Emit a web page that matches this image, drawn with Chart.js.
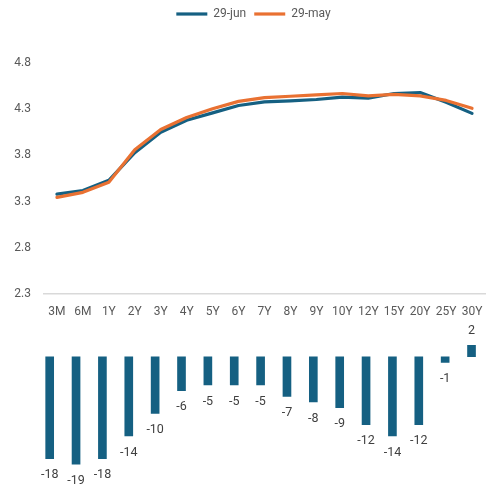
<!DOCTYPE html>
<html>
<head>
<meta charset="utf-8">
<script src="https://cdn.jsdelivr.net/npm/chart.js@4"></script>
<style>
  html, body { margin: 0; padding: 0; background: #ffffff; }
  #wrap { position: relative; width: 487px; height: 484px; overflow: hidden; }
  #curve { position: absolute; left: 0; top: 0; }
  #delta { position: absolute; left: 0; top: 320px; }
</style>
</head>
<body>
<div id="wrap">
  <canvas id="curve" width="487" height="320"></canvas>
  <canvas id="delta" width="487" height="164"></canvas>
</div>
<script>
// Swap curve tenors
const tenors = ['3M', '6M', '1Y', '2Y', '3Y', '4Y', '5Y', '6Y', '7Y', '8Y', '9Y', '10Y', '12Y', '15Y', '20Y', '25Y', '30Y'];

// Rates (%) on each date
const june29 = [3.38, 3.42, 3.53, 3.83, 4.05, 4.18, 4.26, 4.34, 4.38, 4.39, 4.405, 4.43, 4.42, 4.47, 4.48, 4.375, 4.255];
const may29  = [3.345, 3.40, 3.51, 3.86, 4.08, 4.21, 4.305, 4.385, 4.425, 4.44, 4.455, 4.47, 4.445, 4.46, 4.445, 4.395, 4.31];

// Change over the period (bp)
const changeBp = [-18, -19, -18, -14, -10, -6, -5, -5, -5, -7, -8, -9, -12, -14, -12, -1, 2];

// Rate axis tick labels
const rateTicks = [2.3, 2.8, 3.3, 3.8, 4.3, 4.8];

const FONT = 'Roboto, "Liberation Sans", Arial, sans-serif';
const BLUE = '#156082';
const ORANGE = '#E97132';
const TEXT = '#595959';

Chart.defaults.font.family = FONT;
Chart.defaults.font.size = 12;
Chart.defaults.color = TEXT;

// Reserve a fixed band for the legend above the plot area and nudge it sideways
const legendBand = {
  id: 'legendBand',
  beforeLayout(chart, args, opts) {
    const legend = chart.legend;
    if (legend && !legend._bandPatched) {
      const fit = legend.fit;
      legend.fit = function () {
        fit.call(this);
        this.height = opts.height;
      };
      legend._bandPatched = true;
    }
  },
  afterLayout(chart, args, opts) {
    const legend = chart.legend;
    if (legend) {
      legend.left += opts.shift;
      legend.right += opts.shift;
    }
  }
};

new Chart(document.getElementById('curve'), {
  type: 'line',
  data: {
    labels: tenors,
    datasets: [
      { label: '29-jun', data: june29, borderColor: BLUE, backgroundColor: BLUE,
        borderWidth: 3.2, pointRadius: 0, borderCapStyle: 'round', borderJoinStyle: 'round', order: 1 },
      { label: '29-may', data: may29, borderColor: ORANGE, backgroundColor: ORANGE,
        borderWidth: 3.2, pointRadius: 0, borderCapStyle: 'round', borderJoinStyle: 'round', order: 0 }
    ]
  },
  options: {
    responsive: false,
    animation: false,
    events: [],
    layout: { padding: { left: 0, right: 2, top: 0, bottom: 0 } },
    plugins: {
      tooltip: { enabled: false },
      legendBand: { height: 63, shift: 11 },
      legend: {
        position: 'top',
        labels: {
          usePointStyle: true,
          pointStyle: 'line',
          pointStyleWidth: 31,
          padding: 8,
          color: TEXT,
          font: { size: 12 },
          sort: (a, b) => a.datasetIndex - b.datasetIndex
        }
      }
    },
    scales: {
      x: {
        offset: true,
        grid: { display: false, drawTicks: false },
        border: { display: true, color: '#d9d9d9', width: 1.5 },
        ticks: { padding: 11, maxRotation: 0, autoSkip: false, color: TEXT },
        afterFit(scale) {
          scale.height = 26;
          scale.paddingLeft = 0;
          scale.paddingRight = 0;
        }
      },
      y: {
        min: 2.3,
        max: 4.8,
        grid: { display: false, drawTicks: false },
        border: { display: false },
        ticks: { padding: 13, color: TEXT, callback: v => Number(v).toFixed(1) },
        afterBuildTicks(scale) {
          scale.ticks = rateTicks.map(v => ({ value: v }));
        },
        afterFit(scale) {
          scale.width = 44;
          scale.paddingTop = 0;
          scale.paddingBottom = 0;
        }
      }
    }
  },
  plugins: [legendBand]
});

// Value labels at the outer end of each bar
const barValueLabels = {
  id: 'barValueLabels',
  afterDatasetsDraw(chart) {
    const ctx = chart.ctx;
    const meta = chart.getDatasetMeta(0);
    const values = chart.data.datasets[0].data;
    ctx.save();
    ctx.font = '12.5px ' + FONT;
    ctx.fillStyle = '#404040';
    ctx.textAlign = 'center';
    ctx.textBaseline = 'middle';
    meta.data.forEach((bar, i) => {
      const v = values[i];
      const y = v < 0 ? bar.y + 16.5 : bar.y - 14.5;
      ctx.fillText(String(v), bar.x, y);
    });
    ctx.restore();
  }
};

new Chart(document.getElementById('delta'), {
  type: 'bar',
  data: {
    labels: tenors,
    datasets: [
      { label: 'Change (bp)', data: changeBp, backgroundColor: BLUE, borderWidth: 0, barThickness: 8 }
    ]
  },
  options: {
    responsive: false,
    animation: false,
    events: [],
    layout: { padding: { left: 36.5, right: 2.3, top: 0, bottom: 0 } },
    plugins: {
      tooltip: { enabled: false },
      legend: { display: false }
    },
    scales: {
      x: { display: false, offset: true },
      y: { display: false, min: -22.5, max: 6.5 }
    }
  },
  plugins: [barValueLabels]
});
</script>
</body>
</html>
